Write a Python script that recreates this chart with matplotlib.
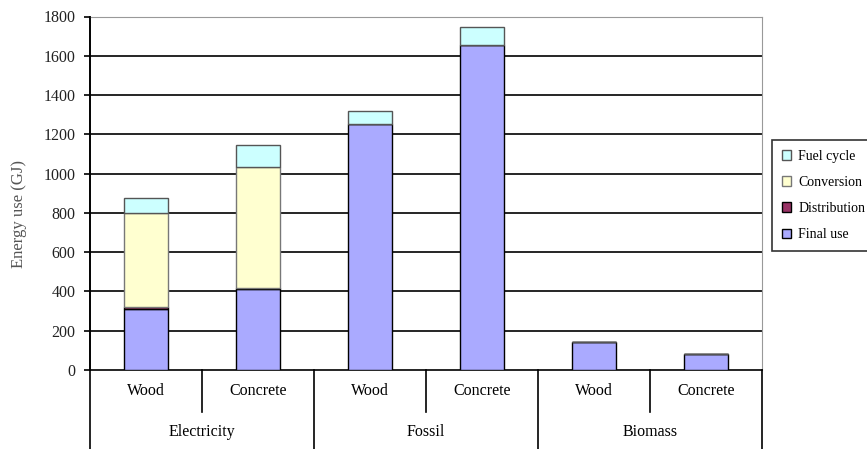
import numpy as np
import matplotlib.pyplot as plt
import matplotlib.transforms as mtransforms

# Données (GJ)
groups = ["Electricity", "Fossil", "Biomass"]
categories = ["Wood", "Concrete", "Wood", "Concrete", "Wood", "Concrete"]
final_use = [310, 410, 1255, 1655, 143, 80]
distribution = [12, 5, 0, 0, 0, 0]
conversion = [478, 620, 0, 0, 0, 0]
fuel_cycle = [75, 110, 65, 90, 0, 0]

series = [
    ("Final use", final_use, "#AAAAFF", "black"),
    ("Distribution", distribution, "#993366", "black"),
    ("Conversion", conversion, "#FFFFD0", "#777777"),
    ("Fuel cycle", fuel_cycle, "#CCFFFF", "#555555"),
]

plt.rcParams["font.family"] = ["Liberation Serif", "DejaVu Serif"]

W, H = 867, 449
fig = plt.figure(figsize=(W / 100, H / 100), dpi=100)
x0, x1, y0, y1 = 90, 762, 370, 16.5
ax = fig.add_axes([x0 / W, 1 - y0 / H, (x1 - x0) / W, (y0 - y1) / H])

x = np.arange(len(categories))
bottom = np.zeros(len(categories))
handles = {}
for name, vals, color, edge in series:
    vals = np.array(vals, dtype=float)
    b = ax.bar(x, vals, 0.39, bottom=bottom, color=color, edgecolor=edge,
               linewidth=1.0, zorder=3, label=name)
    handles[name] = b
    bottom += vals

ax.set_xlim(-0.5, len(categories) - 0.5)
ax.set_ylim(0, 1800)
ax.set_yticks(np.arange(0, 1801, 200))
ax.tick_params(axis="y", direction="out", length=4, width=1.2, pad=6.5,
               labelsize=11.5, labelcolor="#222222")
ax.set_xticks([])
ax.yaxis.grid(True, color="black", linewidth=1.2)
ax.set_axisbelow(True)
ax.get_ygridlines()[-1].set_visible(False)
ax.get_ygridlines()[0].set_visible(False)

ax.spines["top"].set_color("#999999")
ax.spines["right"].set_color("#999999")
ax.spines["left"].set_linewidth(1.2)
ax.spines["bottom"].set_linewidth(1.2)

fig.text(19 / W, 1 - 214 / H, "Energy use (GJ)", rotation=90, ha="center",
         va="center", fontsize=12, color="#555555")

# Tableau des catégories sous l'axe
trans = mtransforms.blended_transform_factory(ax.transData, ax.transAxes)
px = 1 / (y0 - y1)
row1 = -42 * px
bot = -90 * px
for i in range(len(categories) + 1):
    xb = i - 0.5
    yb = bot if i % 2 == 0 else row1
    ax.plot([xb, xb], [0, yb], color="black", lw=1.2, transform=trans,
            clip_on=False, zorder=4)
ax.plot([-0.5, -0.5], [0, 1], color="black", lw=1.2, transform=trans,
        clip_on=False, zorder=4)

for i, c in enumerate(categories):
    ax.text(i, -21 * px, c, transform=trans, ha="center", va="center",
            fontsize=11.5)
for j, g in enumerate(groups):
    ax.text(2 * j + 0.5, -62 * px, g, transform=trans, ha="center",
            va="center", fontsize=11.5)

order = ["Fuel cycle", "Conversion", "Distribution", "Final use"]
leg = fig.legend([handles[n] for n in order], order,
                 loc="upper left", bbox_to_anchor=(772 / W, 1 - 140 / H),
                 fontsize=10, frameon=True, fancybox=False,
                 handlelength=0.7, handleheight=0.7, handletextpad=0.5,
                 labelspacing=0.95, borderpad=0.7, borderaxespad=0)
leg.get_frame().set_edgecolor("black")
leg.get_frame().set_linewidth(1.2)

fig.savefig("out.png", dpi=100)
